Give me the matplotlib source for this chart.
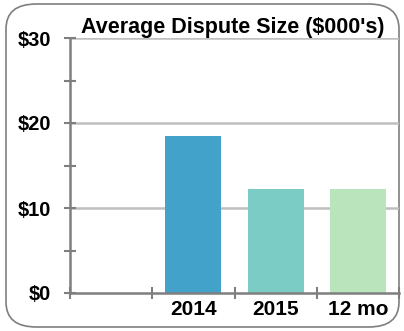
import matplotlib
matplotlib.use('Agg')
import matplotlib.pyplot as plt
from matplotlib.patches import FancyBboxPatch
from matplotlib.ticker import FixedLocator, NullFormatter

plt.rcParams['font.family'] = ['Liberation Sans', 'DejaVu Sans']

# data
categories = ["", "2014", "2015", "12 mo"]
values = [None, 18.5, 12.2, 12.2]
colors = [None, "#43A2CA", "#7BCCC4", "#BAE4BC"]
y_ticks = [0, 10, 20, 30]
y_labels = ["$0", "$10", "$20", "$30"]
title = "Average Dispute Size ($000's)"

fig = plt.figure(figsize=(4.04, 3.31), dpi=100)

# rounded frame round the whole chart
frame = FancyBboxPatch((6 / 404, 4 / 331), 393 / 404, 323 / 331,
                       boxstyle="round,pad=0,rounding_size=0.075",
                       transform=fig.transFigure, facecolor="white",
                       edgecolor="#7f7f7f", linewidth=1.2, zorder=-1)
fig.patches.append(frame)

ax = fig.add_axes([70 / 404, 1 - 293 / 331, 329 / 404, 255 / 331])
ax.set_facecolor("none")
ax.set_zorder(2)

xs = list(range(len(categories)))
for x, v, c in zip(xs, values, colors):
    if v is not None:
        ax.bar(x, v, width=0.68, color=c, zorder=2)

ax.set_xlim(-0.5, len(categories) - 0.5)
ax.set_ylim(0, 30)

# gridlines
for y in y_ticks[1:]:
    ax.axhline(y, color="#BFBFBF", linewidth=1.8, zorder=1)

for side in ["top", "right"]:
    ax.spines[side].set_visible(False)
for side in ["left", "bottom"]:
    ax.spines[side].set_color("#7f7f7f")
    ax.spines[side].set_linewidth(1.8)

ax.set_yticks(y_ticks)
ax.set_yticklabels(y_labels, fontsize=14.5, fontweight="bold")
ax.yaxis.set_minor_locator(FixedLocator([5, 15, 25]))
ax.tick_params(axis="y", which="both", direction="inout", length=8,
               width=1.5, color="#7f7f7f", pad=9.5)

# category boundaries as ticks, names in between
ax.set_xticks([x + 0.5 for x in xs] + [-0.5])
ax.xaxis.set_major_formatter(NullFormatter())
ax.set_xticks(xs, minor=True)
ax.set_xticklabels(categories, minor=True, fontsize=15, fontweight="bold")
ax.tick_params(axis="x", which="major", direction="inout", length=8,
               width=1.5, color="#7f7f7f")
ax.tick_params(axis="x", which="minor", length=0, pad=5)

fig.text(233 / 404, 1 - 28 / 331, title, ha="center", va="center",
         fontsize=15.5, fontweight="bold")

fig.savefig("out.png", dpi=100)
